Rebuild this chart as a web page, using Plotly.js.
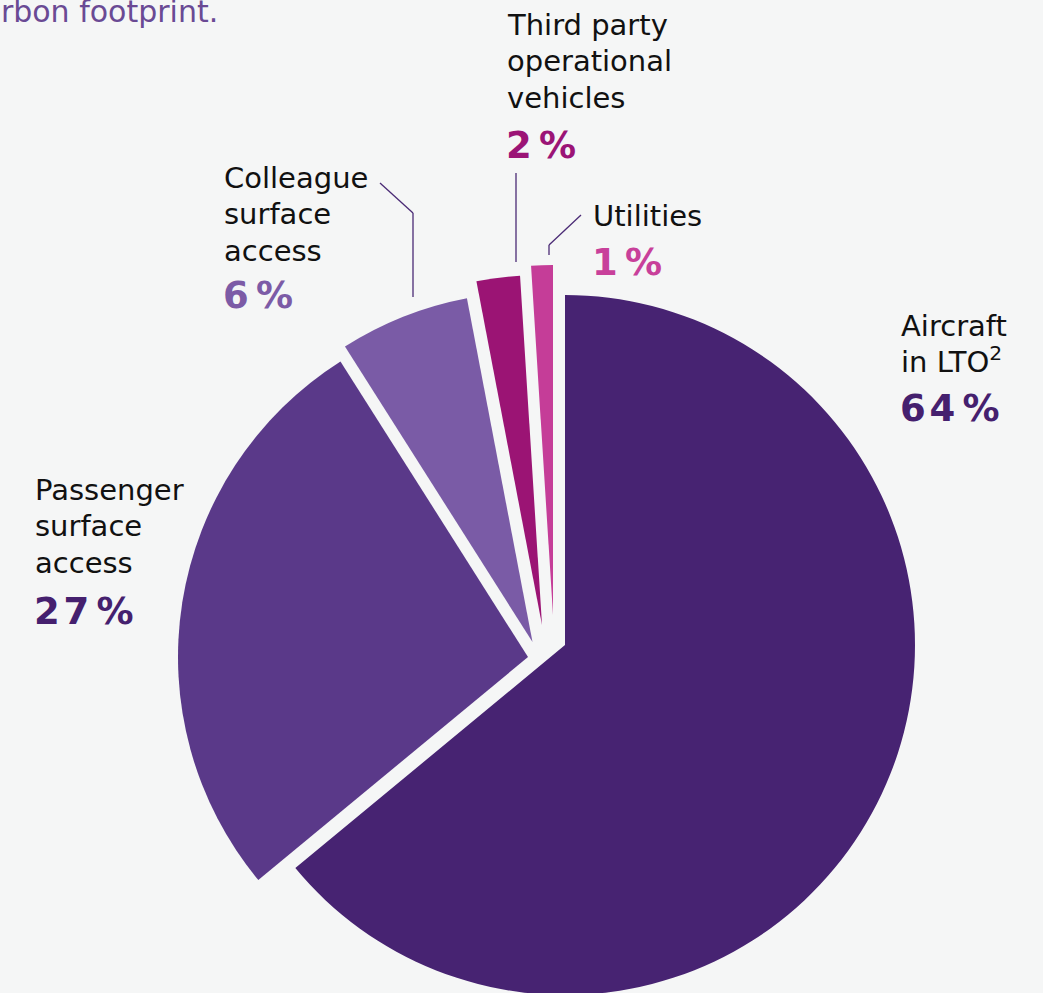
<!DOCTYPE html>
<html><head><meta charset="utf-8">
<script src="https://cdn.plot.ly/plotly-3.0.1.min.js"></script>
<style>
html,body{margin:0;padding:0;overflow:hidden;background:#f5f6f6;width:1043px;height:993px}
#wrap{width:1043px;height:993px;overflow:hidden}
#chart{width:1043px;height:1060px}
</style>
</head><body><div id="wrap"><div id="chart"></div></div>
<script>
// ---- data ----
const categories = ['Aircraft in LTO', 'Passenger surface access', 'Colleague surface access', 'Third party operational vehicles', 'Utilities'];
const shares = [64, 27, 6, 2, 1];
const sliceColors = ['#472372', '#5a3989', '#7a5ba6', '#9b1474', '#c53d98'];
const labelLines = [['Aircraft', 'in LTO<sup>2</sup>'], ['Passenger', 'surface', 'access'], ['Colleague', 'surface', 'access'], ['Third party', 'operational', 'vehicles'], ['Utilities']];
const pctColors = ['#45206e', '#45206e', '#7c5ba6', '#9b1476', '#c8409a'];

// ---- layout geometry (pixels) ----
const W = 1043, H = 1060, R = 350;
const sliceCenters = [[565, 645], [528, 657], [532.5, 642], [542, 625], [553, 615]];
const labelPos = [ // [left x, first baseline, pct baseline]
  [901, 337, 422], [35, 501, 625], [224, 189, 309], [507, 36, 159], [593, 227, 276]
];
const lineGap = 36.5;
const FS = 29, PFS = 37;

const X = px => px / W;
const Y = py => 1 - py / H;

const traces = categories.map((c, i) => {
  const [cx, cy] = sliceCenters[i];
  return {
    type: 'pie',
    labels: categories,
    values: shares,
    sort: false,
    direction: 'clockwise',
    rotation: 0,
    textinfo: 'none',
    hoverinfo: 'label+percent',
    showlegend: false,
    marker: { colors: sliceColors.map((col, j) => j === i ? col : 'rgba(0,0,0,0)'), line: { width: 0 } },
    domain: { x: [X(cx - R), X(cx + R)], y: [Y(cy + R), Y(cy - R)] }
  };
});

const annotations = [];
const thin = '\u200A';
categories.forEach((c, i) => {
  const [lx, b0, pb] = labelPos[i];
  labelLines[i].forEach((t, k) => {
    annotations.push({
      xref: 'paper', yref: 'paper', x: X(lx - 2), y: Y(b0 + k * lineGap + 0.236 * FS + 1),
      xanchor: 'left', yanchor: 'bottom', showarrow: false, align: 'left',
      text: t, font: { family: 'DejaVu Sans', size: FS, color: '#111111' }
    });
  });
  annotations.push({
    xref: 'paper', yref: 'paper', x: X(lx - 3), y: Y(pb + 0.236 * PFS + 1),
    xanchor: 'left', yanchor: 'bottom', showarrow: false, align: 'left',
    text: '<b>' + String(shares[i]).split('').join(thin) + thin + thin + '%</b>',
    font: { family: 'DejaVu Sans', size: PFS, color: pctColors[i] }
  });
});
annotations.push({
  xref: 'paper', yref: 'paper', x: X(220), y: Y(23 + 0.236 * 30 + 1),
  xanchor: 'right', yanchor: 'bottom', showarrow: false, align: 'right',
  text: 'carbon footprint.', font: { family: 'DejaVu Sans', size: 30, color: '#6a4a94' }
});

const seg = (x0, y0, x1, y1) => ({ type: 'line', xref: 'paper', yref: 'paper', x0: X(x0), y0: Y(y0), x1: X(x1), y1: Y(y1), line: { color: '#4a2a75', width: 1.3 } });
const shapes = [
  seg(380, 183, 413, 213), seg(413, 213, 413, 297),
  seg(516, 173, 516, 262),
  seg(549, 255, 549, 245), seg(549, 245, 581, 215)
];

Plotly.newPlot('chart', traces, {
  width: W, height: H,
  margin: { l: 0, r: 0, t: 0, b: 0 },
  paper_bgcolor: '#f5f6f6', plot_bgcolor: '#f5f6f6',
  annotations, shapes, showlegend: false
}, { displayModeBar: false, staticPlot: true });
</script>
</body></html>
